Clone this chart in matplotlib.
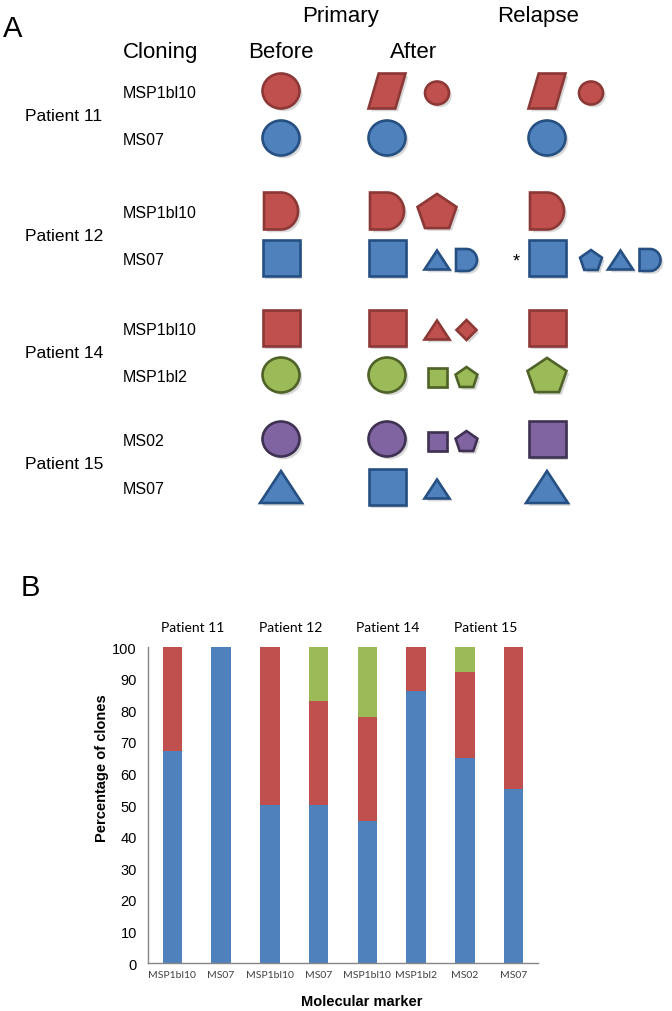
import matplotlib.pyplot as plt
import matplotlib.patheffects as pe
import matplotlib.transforms as mtransforms
from matplotlib.patches import Polygon, Ellipse
import numpy as np

# ---- panel A data ----
patients = ["Patient 11", "Patient 12", "Patient 14", "Patient 15"]
markers_a = ["MSP1bl10", "MS07", "MSP1bl10", "MS07", "MSP1bl10", "MSP1bl2", "MS02", "MS07"]
row_colors = ["red", "blue", "red", "blue", "red", "green", "purple", "blue"]
# clones per row: (shape, major clone?)
before = [("circle", 1), ("circle", 1), ("D", 1), ("square", 1),
          ("square", 1), ("circle", 1), ("circle", 1), ("triangle", 1)]
after = [[("para", 1), ("circle", 0)],
         [("circle", 1)],
         [("D", 1), ("pentagon", 1)],
         [("square", 1), ("triangle", 0), ("D", 0)],
         [("square", 1), ("triangle", 0), ("diamond", 0)],
         [("circle", 1), ("square", 0), ("pentagon", 0)],
         [("circle", 1), ("square", 0), ("pentagon", 0)],
         [("square", 1), ("triangle", 0)]]
relapse = [[("para", 1), ("circle", 0)],
           [("circle", 1)],
           [("D", 1)],
           [("square", 1), ("pentagon", 0), ("triangle", 0), ("D", 0)],
           [("square", 1)],
           [("pentagon", 1)],
           [("square", 1)],
           [("triangle", 1)]]

# ---- panel B data ----
markers_b = ["MSP1bl10", "MS07", "MSP1bl10", "MS07", "MSP1bl10", "MSP1bl2", "MS02", "MS07"]
blue_vals = [67, 100, 50, 50, 45, 86, 65, 55]
red_vals = [33, 0, 50, 33, 33, 14, 27, 45]
green_vals = [0, 0, 0, 17, 22, 0, 8, 0]

fills = {"red": "#C0504D", "blue": "#4F81BD", "green": "#9BBB59", "purple": "#8064A2"}
edges = {"red": "#8C3836", "blue": "#264F82", "green": "#4F6228", "purple": "#3F3151"}

fig = plt.figure(figsize=(6.72, 10.12), dpi=100)
ax = fig.add_axes([0, 0, 1, 1])
ax.set_xlim(0, 672)
ax.set_ylim(1012, 0)
ax.axis("off")

shadow = [pe.SimplePatchShadow(offset=(2, -2), shadow_rgbFace="#909090", alpha=0.35), pe.Normal()]


def shape_patch(kind, cx, cy, w, h, color):
    kw = dict(facecolor=fills[color], edgecolor=edges[color], lw=1.9,
              path_effects=shadow, zorder=3)
    a, b = w / 2, h / 2
    if kind == "circle":
        return Ellipse((cx, cy), w, h, **kw)
    if kind == "square":
        pts = [(-a, -b), (a, -b), (a, b), (-a, b)]
    elif kind == "para":
        pts = [(-a * 0.45, -b), (a, -b), (a * 0.45, b), (-a, b)]
    elif kind == "diamond":
        pts = [(0, -b), (a, 0), (0, b), (-a, 0)]
    elif kind == "triangle":
        pts = [(0, -b), (a, b), (-a, b)]
    elif kind == "pentagon":
        ang = np.radians(-90 + 72 * np.arange(5))
        pts = list(zip(a * np.cos(ang), b * 1.05 * np.sin(ang) + b * 0.1))
    elif kind == "D":
        t = np.linspace(-np.pi / 2, np.pi / 2, 30)
        pts = [(-a, b), (-a, -b)] + [(a * np.cos(tt), b * np.sin(tt)) for tt in t]
    pts = [(cx + x, cy + y) for x, y in pts]
    return Polygon(pts, closed=True, **kw)


big = {"circle": (37, 35), "square": (37, 36), "para": (37, 35), "D": (34, 37),
       "triangle": (42, 32), "pentagon": (41, 36), "diamond": (30, 30)}
small = {"circle": (24, 23), "square": (19, 19), "pentagon": (23, 21), "triangle": (25, 19),
         "D": (21, 22), "diamond": (20, 20)}

row_y = [92, 139, 212, 259, 329, 376, 440, 488]
x_before, x_after, x_relapse = 281, 387, 547
x_after_small, x_relapse_small, step = 437, 591, 29.5

for i, y in enumerate(row_y):
    col = row_colors[i]
    ax.text(123, y + 6, markers_a[i], fontsize=11.5, family="Liberation Sans", va="baseline")
    k, m = before[i]
    ax.add_patch(shape_patch(k, x_before, y, *big[k], col))
    for stage, xb, xs in [(after[i], x_after, x_after_small), (relapse[i], x_relapse, x_relapse_small)]:
        for j, (k, m) in enumerate(stage):
            if j == 0:
                ax.add_patch(shape_patch(k, xb, y, *big[k], col))
            else:
                w, h = big[k] if m else small[k]
                ax.add_patch(shape_patch(k, xs + (j - 1) * step, y + (0 if m else 2), w, h, col))

for p, name in enumerate(patients):
    yc = (row_y[2 * p] + row_y[2 * p + 1]) / 2
    ax.text(25, yc + 5, name, fontsize=12.5, family="Liberation Sans", va="baseline")

ax.text(516, 262, "*", fontsize=13, family="Liberation Sans", ha="center", va="center")
ax.text(3, 37, "A", fontsize=21, family="Liberation Sans", va="baseline")
ax.text(340, 22, "Primary", fontsize=16, family="Liberation Sans", ha="center", va="baseline")
ax.text(538, 22, "Relapse", fontsize=16, family="Liberation Sans", ha="center", va="baseline")
ax.text(161, 58, "Cloning", fontsize=16, family="Liberation Sans", ha="center", va="baseline")
ax.text(281, 58, "Before", fontsize=16, family="Liberation Sans", ha="center", va="baseline")
ax.text(414, 58, "After", fontsize=16, family="Liberation Sans", ha="center", va="baseline")
ax.text(21, 596, "B", fontsize=21, family="Liberation Sans", va="baseline")

# ---- panel B ----
W, H = 672, 1012
axb = fig.add_axes([148 / W, 1 - 964 / H, (538 - 148) / W, (964 - 648) / H])
x = np.arange(len(markers_b))
blue_vals = np.array(blue_vals)
red_vals = np.array(red_vals)
green_vals = np.array(green_vals)
axb.bar(x, blue_vals, 0.4, color=fills["blue"])
axb.bar(x, red_vals, 0.4, bottom=blue_vals, color=fills["red"])
axb.bar(x, green_vals, 0.4, bottom=blue_vals + red_vals, color=fills["green"])
axb.set_xlim(-0.5, len(x) - 0.5)
axb.set_ylim(0, 100)
axb.set_yticks(range(0, 101, 10))
axb.set_xticks(x)
axb.set_xticklabels(markers_b, fontsize=7.5, family="Lato")
for lab in axb.get_yticklabels():
    lab.set_fontsize(10.5)
    lab.set_family("Liberation Sans")
axb.tick_params(length=0, colors="#404040")
axb.tick_params(axis="y", pad=8, colors="black")
axb.tick_params(axis="x", pad=5)
for s in ["top", "right"]:
    axb.spines[s].set_visible(False)
for s in ["left", "bottom"]:
    axb.spines[s].set_color("#868686")
    axb.spines[s].set_linewidth(1)

trans = mtransforms.blended_transform_factory(axb.transData, axb.transAxes)
for p, name in enumerate(patients):
    axb.text(2 * p + 0.5 - 0.08, 1.063, name, transform=trans, fontsize=10, family="Lato",
             ha="center", va="center")

fig.text(102 / W, 1 - 768 / H, "Percentage of clones", rotation=90, fontsize=10.5,
         fontweight="bold", family="Liberation Sans", ha="center", va="center")
fig.text(362 / W, 1 - 1002 / H, "Molecular marker", fontsize=10.5,
         fontweight="bold", family="Liberation Sans", ha="center", va="center")

fig.savefig("out.png", dpi=100)
